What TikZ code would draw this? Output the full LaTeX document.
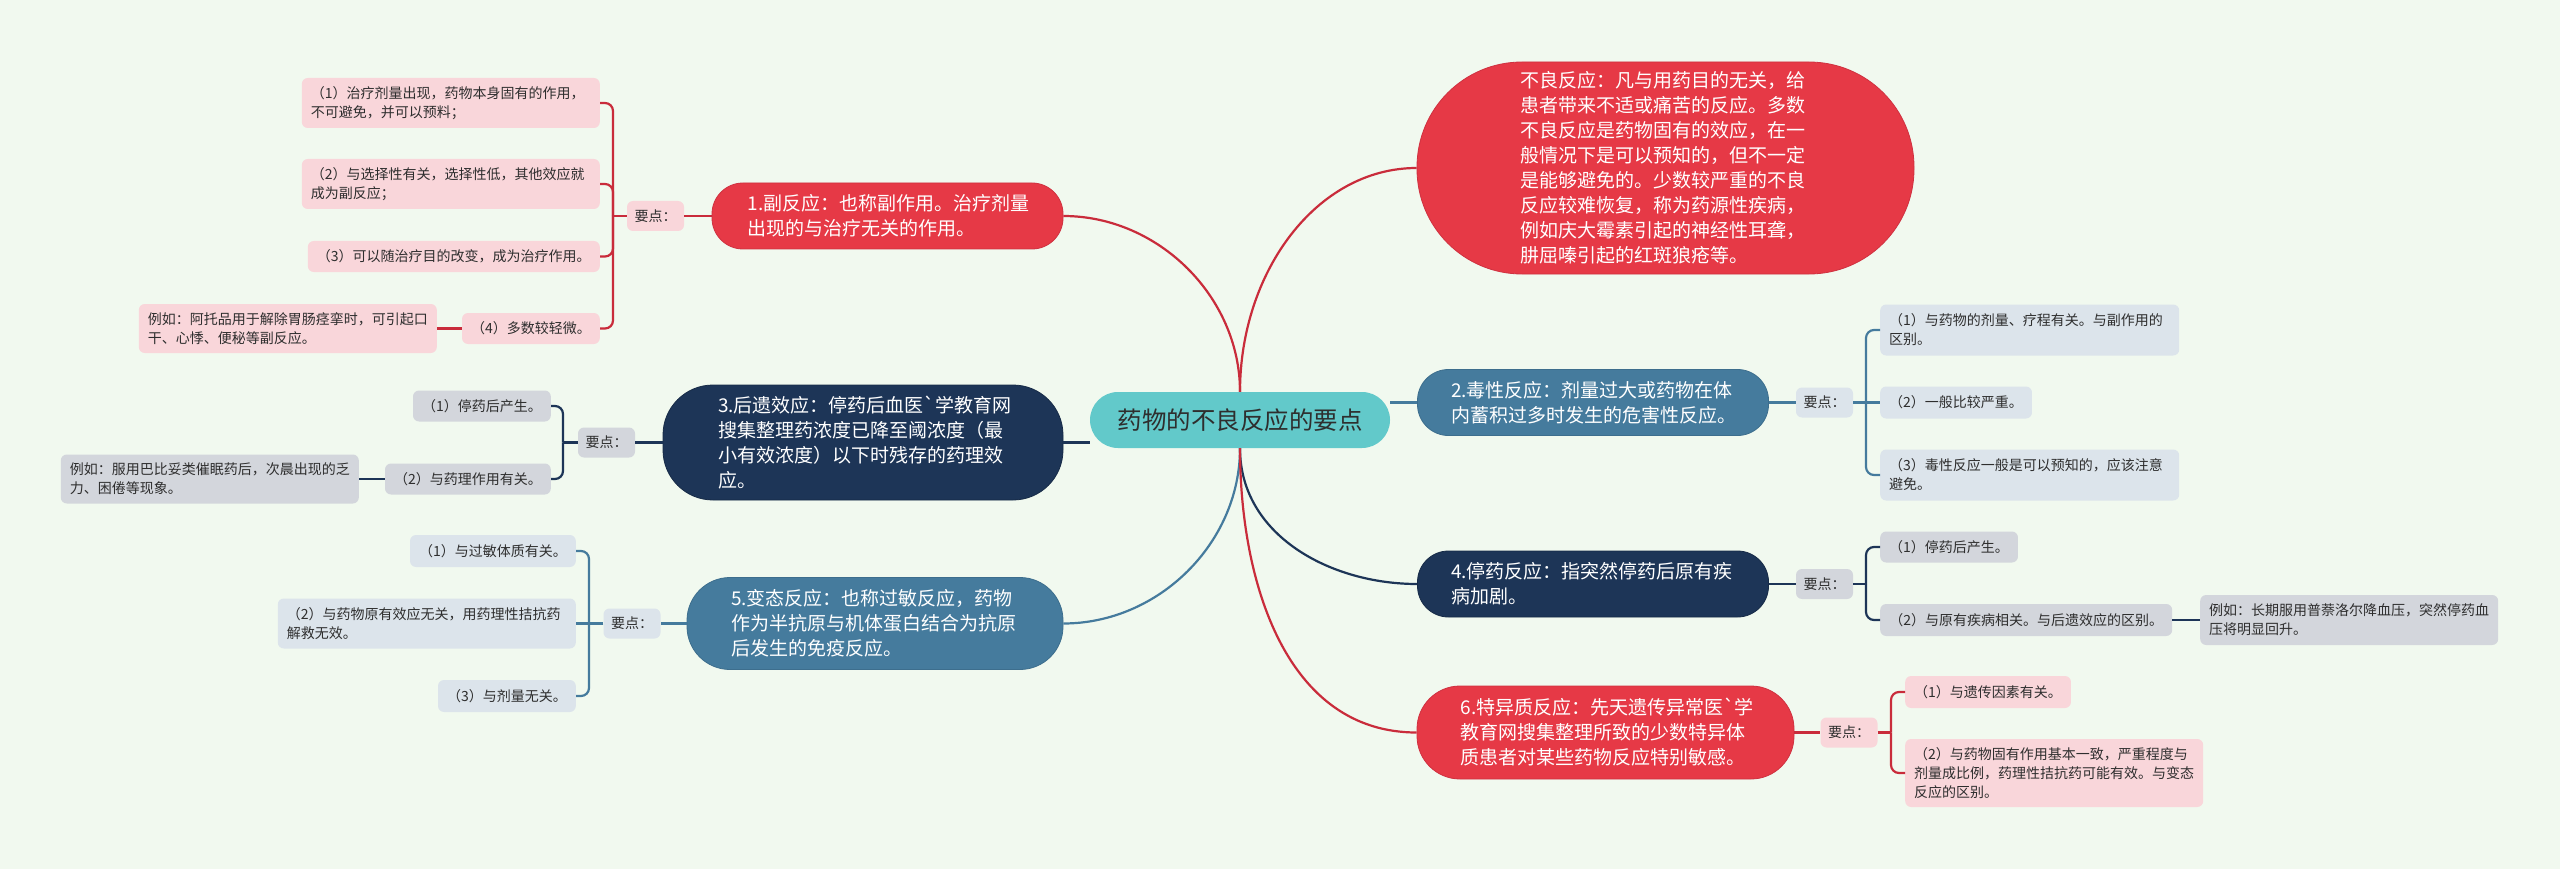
\documentclass[tikz,border=0pt]{standalone}
\usepackage{fontspec}
\newfontfamily\cjk{Noto Sans CJK SC}
\definecolor{bg}{HTML}{F1F9EF}
\definecolor{cred}{HTML}{E63946}
\definecolor{credd}{HTML}{CF3140}
\definecolor{credline}{HTML}{C92C3B}
\definecolor{cblue}{HTML}{457B9D}
\definecolor{cblued}{HTML}{3D6E8D}
\definecolor{cnavy}{HTML}{1D3557}
\definecolor{cnavyd}{HTML}{172B47}
\definecolor{cteal}{HTML}{62C9CA}
\definecolor{pinkbox}{HTML}{F9D6DA}
\definecolor{bluebox}{HTML}{DCE4EB}
\definecolor{greybox}{HTML}{D3D6DC}
\definecolor{txt}{HTML}{2E2E2E}
\tikzset{
 mainnode/.style={inner sep=0pt, align=left, text=white, font=\cjk\fontsize{19}{25}\selectfont, line width=0.8pt},
 redmain/.style={mainnode, fill=cred, draw=credd},
 bluemain/.style={mainnode, fill=cblue, draw=cblued},
 navymain/.style={mainnode, fill=cnavy, draw=cnavyd},
 subnode/.style={rounded corners=6, inner xsep=9pt, inner ysep=0pt, text=txt, font=\cjk\fontsize{14}{19}\selectfont},
 pinksub/.style={subnode, fill=pinkbox},
 bluesub/.style={subnode, fill=bluebox},
 greysub/.style={subnode, fill=greybox},
 keybox/.style={inner xsep=6pt, minimum width=57, minimum height=30},
 multi/.style={text width=#1, align=left},
 redline/.style={draw=credline, line width=2.2pt},
 blueline/.style={draw=cblue, line width=2.2pt},
 navyline/.style={draw=cnavy, line width=2.2pt},
 brk/.style={rounded corners=8},
}
\begin{document}
\begin{tikzpicture}[x=1pt,y=-1pt]
\useasboundingbox (0,0) rectangle (2560,869);
\fill[bg] (0,0) rectangle (2560,869);

% ---------- centre ----------
\node[fill=cteal, rounded corners=28, minimum width=300, minimum height=56, inner sep=0pt,
      text=txt, font=\cjk\fontsize{24.5}{30}\selectfont] (c) at (1240,420) {药物的不良反应的要点};

% ---------- main branches ----------
\node[redmain, rounded corners=105, minimum width=497, minimum height=212, text width=290] (n0) at (1665.5,168)
 {不良反应：凡与用药目的无关，给\\患者带来不适或痛苦的反应。多数\\不良反应是药物固有的效应，在一\\般情况下是可以预知的，但不一定\\是能够避免的。少数较严重的不良\\反应较难恢复，称为药源性疾病，\\例如庆大霉素引起的神经性耳聋，\\肼屈嗪引起的红斑狼疮等。};
\node[redmain, rounded corners=31, minimum width=351, minimum height=66, text width=280] (n1) at (887.5,216)
 {1.副反应：也称副作用。治疗剂量\\出现的与治疗无关的作用。};
\node[bluemain, rounded corners=31, minimum width=351, minimum height=66, text width=284] (n2) at (1593,402.5)
 {2.毒性反应：剂量过大或药物在体\\内蓄积过多时发生的危害性反应。};
\node[navymain, rounded corners=50, minimum width=400, minimum height=115, text width=290] (n3) at (863,442.5)
 {3.后遗效应：停药后血医`学教育网\\搜集整理药浓度已降至阈浓度（最\\小有效浓度）以下时残存的药理效\\应。};
\node[navymain, rounded corners=31, minimum width=351, minimum height=66, text width=284] (n4) at (1593,584)
 {4.停药反应：指突然停药后原有疾\\病加剧。};
\node[bluemain, rounded corners=43, minimum width=376, minimum height=92, text width=288] (n5) at (875,623.5)
 {5.变态反应：也称过敏反应，药物\\作为半抗原与机体蛋白结合为抗原\\后发生的免疫反应。};
\node[redmain, rounded corners=43, minimum width=377, minimum height=93, text width=290] (n6) at (1605.5,732.5)
 {6.特异质反应：先天遗传异常医`学\\教育网搜集整理所致的少数特异体\\质患者对某些药物反应特别敏感。};

% ---------- connectors from centre ----------
\draw[redline] (c.north) .. controls +(0,-95) and +(95,0) .. (n1.east);
\draw[redline] (c.north) .. controls +(0,-120) and +(-100,0) .. (n0.west);
\draw[blueline] (c.east |- n2.west) -- (n2.west);
\draw[navyline] (c.west |- n3.east) -- (n3.east);
\draw[navyline] (c.south) .. controls +(0,87) and +(-87,0) .. (n4.west);
\draw[blueline] (c.south) .. controls +(0,95) and +(95,0) .. (n5.east);
\draw[redline] (c.south) .. controls +(0,135) and +(-130,0) .. (n6.west);

% ---------- branch 1 ----------
\node[pinksub, keybox] (y1) at (655.5,216) {要点：};
\coordinate (b1) at (613,216);
\node[pinksub, multi=280, minimum height=50, anchor=east] (c1a) at (600,103) {（1）治疗剂量出现，药物本身固有的作用，\\不可避免，并可以预料；};
\node[pinksub, multi=280, minimum height=50, anchor=east] (c1b) at (600,184) {（2）与选择性有关，选择性低，其他效应就\\成为副反应；};
\node[pinksub, minimum width=292, minimum height=31, anchor=east] (c1c) at (600,256.5) {（3）可以随治疗目的改变，成为治疗作用。};
\node[pinksub, minimum width=136, minimum height=31, anchor=east] (c1d) at (600,328.5) {（4）多数较轻微。};
\node[pinksub, multi=280, minimum height=49, anchor=east] (e1) at (437,328.5) {例如：阿托品用于解除胃肠痉挛时，可引起口\\干、心悸、便秘等副反应。};
\draw[redline] (n1.west) -- (y1.east);
\draw[redline] (y1.west) -- (b1);
\draw[redline, brk] (b1) |- (c1a.east);
\draw[redline, brk] (b1) |- (c1b.east);
\draw[redline, brk] (b1) |- (c1c.east);
\draw[redline, brk] (b1) |- (c1d.east);
\draw[redline] (c1d.west) -- (e1.east);

% ---------- branch 3 ----------
\node[greysub, keybox] (y3) at (606.5,442.5) {要点：};
\coordinate (b3) at (563,442.5);
\node[greysub, minimum width=136, minimum height=31, anchor=east] (c3a) at (551,406) {（1）停药后产生。};
\node[greysub, minimum width=164, minimum height=31, anchor=east] (c3b) at (551,479) {（2）与药理作用有关。};
\node[greysub, multi=280, minimum height=49, anchor=east] (e3) at (359,479) {例如：服用巴比妥类催眠药后，次晨出现的乏\\力、困倦等现象。};
\draw[navyline] (n3.west) -- (y3.east);
\draw[navyline] (y3.west) -- (b3);
\draw[navyline, brk] (b3) |- (c3a.east);
\draw[navyline, brk] (b3) |- (c3b.east);
\draw[navyline] (c3b.west) -- (e3.east);

% ---------- branch 5 ----------
\node[bluesub, keybox] (y5) at (632,623.5) {要点：};
\coordinate (b5) at (589,623.5);
\node[bluesub, minimum width=164, minimum height=32, anchor=east] (c5a) at (576,551) {（1）与过敏体质有关。};
\node[bluesub, multi=280, minimum height=50, anchor=east] (c5b) at (576,623.5) {（2）与药物原有效应无关，用药理性拮抗药\\解救无效。};
\node[bluesub, minimum width=137, minimum height=32, anchor=east] (c5c) at (576,696) {（3）与剂量无关。};
\draw[blueline] (n5.west) -- (y5.east);
\draw[blueline] (y5.west) -- (b5);
\draw[blueline, brk] (b5) |- (c5a.east);
\draw[blueline] (b5) -- (c5b.east);
\draw[blueline, brk] (b5) |- (c5c.east);

% ---------- branch 2 ----------
\node[bluesub, keybox] (y2) at (1824.5,402.5) {要点：};
\coordinate (b2) at (1866,402.5);
\node[bluesub, multi=281, minimum height=51, anchor=west] (c2a) at (1880,330) {（1）与药物的剂量、疗程有关。与副作用的\\区别。};
\node[bluesub, minimum width=151, minimum height=32, anchor=west] (c2b) at (1880,402.5) {（2）一般比较严重。};
\node[bluesub, multi=281, minimum height=51, anchor=west] (c2c) at (1880,475) {（3）毒性反应一般是可以预知的，应该注意\\避免。};
\draw[blueline] (n2.east) -- (y2.west);
\draw[blueline] (y2.east) -- (b2);
\draw[blueline, brk] (b2) |- (c2a.west);
\draw[blueline] (b2) -- (c2b.west);
\draw[blueline, brk] (b2) |- (c2c.west);

% ---------- branch 4 ----------
\node[greysub, keybox] (y4) at (1824.5,584) {要点：};
\coordinate (b4) at (1866,584);
\node[greysub, minimum width=135, minimum height=31, anchor=west] (c4a) at (1880,547) {（1）停药后产生。};
\node[greysub, minimum width=292, minimum height=32, anchor=west] (c4b) at (1880,620) {（2）与原有疾病相关。与后遗效应的区别。};
\node[greysub, multi=280, minimum height=50, anchor=west] (e4) at (2200,620) {例如：长期服用普萘洛尔降血压，突然停药血\\压将明显回升。};
\draw[navyline] (n4.east) -- (y4.west);
\draw[navyline] (y4.east) -- (b4);
\draw[navyline, brk] (b4) |- (c4a.west);
\draw[navyline, brk] (b4) |- (c4b.west);
\draw[navyline] (c4b.east) -- (e4.west);

% ---------- branch 6 ----------
\node[pinksub, keybox] (y6) at (1849,732.5) {要点：};
\coordinate (b6) at (1891,732.5);
\node[pinksub, minimum width=163, minimum height=32, anchor=west] (c6a) at (1905,692) {（1）与遗传因素有关。};
\node[pinksub, multi=280, minimum height=68, anchor=west] (c6b) at (1905,773) {（2）与药物固有作用基本一致，严重程度与\\剂量成比例，药理性拮抗药可能有效。与变态\\反应的区别。};
\draw[redline] (n6.east) -- (y6.west);
\draw[redline] (y6.east) -- (b6);
\draw[redline, brk] (b6) |- (c6a.west);
\draw[redline, brk] (b6) |- (c6b.west);
\end{tikzpicture}
\end{document}
